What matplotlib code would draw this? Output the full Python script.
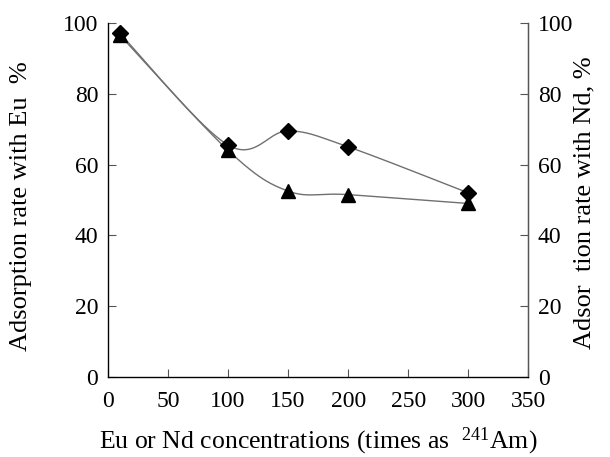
import numpy as np
import matplotlib
matplotlib.use("Agg")
import matplotlib.pyplot as plt

plt.rcParams['font.family'] = ['Liberation Serif', 'DejaVu Serif']
plt.rcParams['mathtext.fontset'] = 'custom'
plt.rcParams['mathtext.rm'] = 'Liberation Serif'
plt.rcParams['mathtext.it'] = 'Liberation Serif:italic'

x_vals = [10, 100, 150, 200, 300]
eu_vals = [97, 65.5, 69.5, 65, 52]
nd_vals = [96.5, 64, 52.5, 51.5, 49]
x_ticks = [0, 50, 100, 150, 200, 250, 300, 350]
y_ticks = [0, 20, 40, 60, 80, 100]


def smooth(xs, ys, n=40):
    P = np.column_stack([xs, ys]).astype(float)
    out = []
    m = len(P)
    for i in range(m - 1):
        p0 = P[max(i - 1, 0)]
        p1 = P[i]
        p2 = P[i + 1]
        p3 = P[min(i + 2, m - 1)]
        c1 = p1 + (p2 - p0) / 6.0
        c2 = p2 - (p3 - p1) / 6.0
        t = np.linspace(0, 1, n)[:, None]
        seg = ((1 - t) ** 3) * p1 + 3 * ((1 - t) ** 2) * t * c1 + 3 * (1 - t) * t ** 2 * c2 + t ** 3 * p2
        out.append(seg if i == 0 else seg[1:])
    s = np.vstack(out)
    return s[:, 0], s[:, 1]


fig = plt.figure(figsize=(6.1, 4.57), dpi=100)
ax = fig.add_axes([0.177, 0.175, 0.689, 0.775])

lc = '#707070'
sx, sy = smooth(x_vals, eu_vals)
ax.plot(sx, sy, color=lc, lw=1.0, zorder=2)
sx, sy = smooth(x_vals, nd_vals)
ax.plot(sx, sy, color=lc, lw=1.0, zorder=2)
ax.plot(x_vals, nd_vals, linestyle='none', marker='^', color='black', markersize=10, zorder=3)
ax.plot(x_vals, eu_vals, linestyle='none', marker='D', color='black', markersize=8, zorder=4)

ax.set_xlim(0, 350)
ax.set_ylim(0, 100)
ax.set_xticks(x_ticks)
ax.set_yticks(y_ticks)
ax.spines['top'].set_visible(False)
for s in ['left', 'right', 'bottom']:
    ax.spines[s].set_color('#555555')
    ax.spines[s].set_linewidth(1.0)
ax.tick_params(direction='in', length=6, color='#555555', labelsize=17)
ax.tick_params(axis='x', pad=10)
ax.tick_params(axis='y', pad=7)
ax.set_ylabel('Adsorption rate with Eu  %', fontsize=19)
ax.yaxis.set_label_coords(-0.181, 0.482)
ax.set_xlabel(r'Eu or Nd concentrations (times as  $^{241}\mathrm{Am}$)', fontsize=18.5, labelpad=10)

ax2 = ax.twinx()
ax2.set_ylim(0, 100)
ax2.set_yticks(y_ticks)
ax2.spines['top'].set_visible(False)
ax2.spines['right'].set_color('#555555')
ax2.tick_params(direction='in', length=6, color='#555555', labelsize=17, pad=7)
ax2.set_ylabel('Adsor  tion rate with Nd, %', fontsize=19)
ax2.yaxis.set_label_coords(1.107, 0.493)

fig.savefig('out.png', dpi=100)
